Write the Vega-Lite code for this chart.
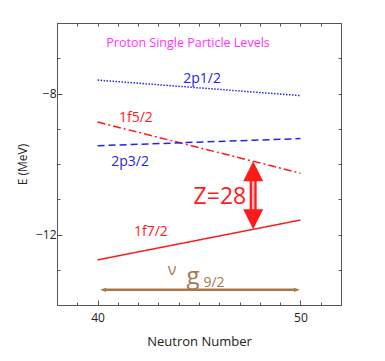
{
  "$schema": "https://vega.github.io/schema/vega-lite/v6.json",
  "width": 284,
  "height": 282,
  "autosize": {"type": "none"},
  "padding": {"left": 57, "top": 23, "right": 44, "bottom": 56},
  "background": "white",
  "config": {
    "font": "Open Sans",
    "view": {"stroke": "#555555", "strokeWidth": 1},
    "axis": {
      "domain": false,
      "grid": false,
      "tickColor": "#555555",
      "labelColor": "#222222",
      "labelFont": "Open Sans",
      "labelFontSize": 12,
      "titleFont": "Open Sans",
      "titleFontWeight": "normal",
      "titleColor": "#222222"
    }
  },
  "datasets": {
    "levels": [
      {"level": "2p1/2", "N": 40, "E": -7.62},
      {"level": "2p1/2", "N": 50, "E": -8.06},
      {"level": "1f5/2", "N": 40, "E": -8.81},
      {"level": "1f5/2", "N": 50, "E": -10.26},
      {"level": "2p3/2", "N": 40, "E": -9.48},
      {"level": "2p3/2", "N": 50, "E": -9.28},
      {"level": "1f7/2", "N": 40, "E": -12.72},
      {"level": "1f7/2", "N": 50, "E": -11.59}
    ],
    "levelLabels": [
      {"level": "2p1/2", "N": 45.15, "E": -7.59},
      {"level": "1f5/2", "N": 41.89, "E": -8.7},
      {"level": "2p3/2", "N": 41.6, "E": -9.94},
      {"level": "1f7/2", "N": 42.63, "E": -11.93}
    ]
  },
  "resolve": {"axis": {"x": "independent", "y": "independent"}},
  "layer": [
    {
      "data": {"name": "levels"},
      "mark": {"type": "line", "strokeWidth": 1.5},
      "encoding": {
        "x": {
          "field": "N", "type": "quantitative",
          "scale": {"domain": [38, 52], "nice": false, "zero": false},
          "axis": {
            "orient": "bottom",
            "values": [38, 39, 40, 41, 42, 43, 44, 45, 46, 47, 48, 49, 50, 51, 52],
            "labelExpr": "datum.value == 40 || datum.value == 50 ? datum.label : ''",
            "tickSize": {"condition": {"test": "datum.value == 40 || datum.value == 50", "value": -5}, "value": -3},
            "labelPadding": 12,
            "title": "Neutron Number",
            "titleFontSize": 13,
            "titlePadding": 12
          }
        },
        "y": {
          "field": "E", "type": "quantitative",
          "scale": {"domain": [-14, -6], "nice": false, "zero": false},
          "axis": {
            "orient": "left",
            "values": [-14, -13, -12, -11, -10, -9, -8, -7, -6],
            "labelExpr": "datum.value == -8 || datum.value == -12 ? datum.label : ''",
            "tickSize": {"condition": {"test": "datum.value == -8 || datum.value == -12", "value": -5}, "value": -3},
            "labelPadding": 6,
            "title": "E (MeV)",
            "titleFontSize": 12,
            "titlePadding": 6
          }
        },
        "detail": {"field": "level"},
        "color": {
          "field": "level", "type": "nominal",
          "scale": {"domain": ["2p1/2", "1f5/2", "2p3/2", "1f7/2"], "range": ["#2424E8", "#FF1A1A", "#2424E8", "#FF1A1A"]},
          "legend": null
        },
        "strokeDash": {
          "field": "level", "type": "nominal",
          "scale": {"domain": ["2p1/2", "1f5/2", "2p3/2", "1f7/2"], "range": [[1.5, 1.5], [8, 3, 2, 3], [7, 4], [1, 0]]},
          "legend": null
        }
      }
    },
    {
      "data": {"name": "levels"},
      "mark": {"type": "point", "opacity": 0},
      "encoding": {
        "x": {"field": "N", "type": "quantitative", "axis": {"orient": "top", "values": [38, 39, 40, 41, 42, 43, 44, 45, 46, 47, 48, 49, 50, 51, 52], "labels": false, "title": null, "tickSize": -3}},
        "y": {"field": "E", "type": "quantitative", "axis": {"orient": "right", "values": [-14, -13, -12, -11, -10, -9, -8, -7, -6], "labels": false, "title": null, "tickSize": -3}}
      }
    },
    {
      "data": {"name": "levelLabels"},
      "mark": {"type": "text", "fontSize": 14, "font": "Open Sans", "align": "center", "baseline": "middle"},
      "encoding": {
        "x": {"field": "N", "type": "quantitative", "axis": null},
        "y": {"field": "E", "type": "quantitative", "axis": null},
        "text": {"field": "level"},
        "color": {"field": "level", "type": "nominal", "legend": null}
      }
    },
    {
      "data": {"values": [{"label": "Proton Single Particle Levels", "N": 44.46, "E": -6.57}]},
      "mark": {"type": "text", "fontSize": 12.5, "font": "Open Sans", "color": "#FF33FF", "align": "center", "baseline": "middle"},
      "encoding": {
        "x": {"field": "N", "type": "quantitative", "axis": null},
        "y": {"field": "E", "type": "quantitative", "axis": null},
        "text": {"field": "label"}
      }
    },
    {
      "data": {"values": [{"label": "Z=28", "N": 46.03, "E": -10.94}]},
      "mark": {"type": "text", "fontSize": 23, "font": "Open Sans", "color": "#FF1A1A", "align": "center", "baseline": "middle"},
      "encoding": {
        "x": {"field": "N", "type": "quantitative", "axis": null},
        "y": {"field": "E", "type": "quantitative", "axis": null},
        "text": {"field": "label"}
      }
    },
    {
      "data": {"values": [{"N": 47.67, "top": -10.3, "bottom": -11.5}]},
      "mark": {"type": "rule", "color": "#FF1A1A", "strokeWidth": 7},
      "encoding": {
        "x": {"field": "N", "type": "quantitative", "axis": null},
        "y": {"field": "top", "type": "quantitative", "axis": null},
        "y2": {"field": "bottom"}
      }
    },
    {
      "data": {"values": [{"N": 47.67, "top": -10.3, "bottom": -11.5}]},
      "mark": {"type": "rule", "color": "#FFB0B0", "strokeWidth": 2.5},
      "encoding": {
        "x": {"field": "N", "type": "quantitative", "axis": null},
        "y": {"field": "top", "type": "quantitative", "axis": null},
        "y2": {"field": "bottom"}
      }
    },
    {
      "data": {"values": [{"N": 47.67, "E": -9.92}]},
      "mark": {"type": "point", "shape": "M0,0L1,2L-1,2Z", "size": 400, "filled": true, "color": "#FF1A1A", "opacity": 1, "strokeWidth": 0},
      "encoding": {
        "x": {"field": "N", "type": "quantitative", "axis": null},
        "y": {"field": "E", "type": "quantitative", "axis": null}
      }
    },
    {
      "data": {"values": [{"N": 47.67, "E": -11.85}]},
      "mark": {"type": "point", "shape": "M0,0L1,-2L-1,-2Z", "size": 400, "filled": true, "color": "#FF1A1A", "opacity": 1, "strokeWidth": 0},
      "encoding": {
        "x": {"field": "N", "type": "quantitative", "axis": null},
        "y": {"field": "E", "type": "quantitative", "axis": null}
      }
    },
    {
      "data": {"values": [{"left": 40.4, "right": 49.7, "E": -13.57}]},
      "mark": {"type": "rule", "color": "#A8784C", "strokeWidth": 2.5},
      "encoding": {
        "x": {"field": "left", "type": "quantitative", "axis": null},
        "x2": {"field": "right"},
        "y": {"field": "E", "type": "quantitative", "axis": null}
      }
    },
    {
      "data": {"values": [{"N": 40.12, "E": -13.57}]},
      "mark": {"type": "point", "shape": "M0,0L2,-0.7L2,0.7Z", "size": 36, "filled": true, "color": "#A8784C", "opacity": 1, "strokeWidth": 0},
      "encoding": {
        "x": {"field": "N", "type": "quantitative", "axis": null},
        "y": {"field": "E", "type": "quantitative", "axis": null}
      }
    },
    {
      "data": {"values": [{"N": 49.98, "E": -13.57}]},
      "mark": {"type": "point", "shape": "M0,0L-2,-0.7L-2,0.7Z", "size": 36, "filled": true, "color": "#A8784C", "opacity": 1, "strokeWidth": 0},
      "encoding": {
        "x": {"field": "N", "type": "quantitative", "axis": null},
        "y": {"field": "E", "type": "quantitative", "axis": null}
      }
    },
    {
      "data": {"values": [{"label": "ν", "N": 43.67, "E": -13.15}]},
      "mark": {"type": "text", "fontSize": 16, "font": "Open Sans", "color": "#A8784C", "align": "center", "baseline": "alphabetic"},
      "encoding": {
        "x": {"field": "N", "type": "quantitative", "axis": null},
        "y": {"field": "E", "type": "quantitative", "axis": null},
        "text": {"field": "label"}
      }
    },
    {
      "data": {"values": [{"label": "g", "N": 44.7, "E": -13.4}]},
      "mark": {"type": "text", "fontSize": 24, "font": "Open Sans", "color": "#A8784C", "align": "center", "baseline": "alphabetic"},
      "encoding": {
        "x": {"field": "N", "type": "quantitative", "axis": null},
        "y": {"field": "E", "type": "quantitative", "axis": null},
        "text": {"field": "label"}
      }
    },
    {
      "data": {"values": [{"label": "9/2", "N": 45.74, "E": -13.49}]},
      "mark": {"type": "text", "fontSize": 14, "font": "Open Sans", "color": "#A8784C", "align": "center", "baseline": "alphabetic"},
      "encoding": {
        "x": {"field": "N", "type": "quantitative", "axis": null},
        "y": {"field": "E", "type": "quantitative", "axis": null},
        "text": {"field": "label"}
      }
    }
  ]
}
